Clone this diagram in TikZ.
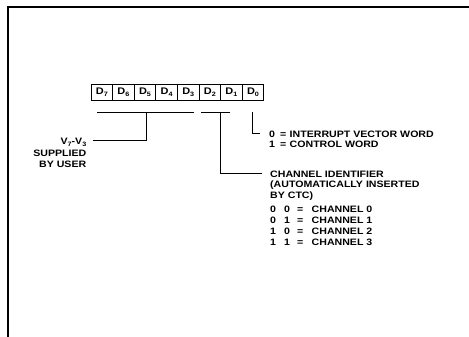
\documentclass[tikz,border=0pt]{standalone}
\usepackage{fontspec}
\newfontfamily\labfont{Liberation Sans}[FakeStretch=1.14]
\newcommand{\subx}[1]{\raisebox{-0.4ex}{\fontsize{6.3}{6.3}\selectfont #1}}
\begin{document}
\begin{tikzpicture}[x=1pt,y=-1pt,
  cellbox/.style={draw,line width=0.9pt,minimum width=21.6pt,minimum height=16pt,inner sep=0pt,
    font=\labfont\bfseries\fontsize{9.6}{10}\selectfont},
  lbl/.style={inner sep=0pt,font=\labfont\bfseries\fontsize{9.3}{10}\selectfont},
  lead/.style={line width=0.9pt}]
\useasboundingbox (0,0) rectangle (469,337);
% frame
\draw[line width=1.6pt] (8,337) -- (8,7) -- (469,7);
% register cells
\foreach \i/\n in {0/7,1/6,2/5,3/4,4/3,5/2,6/1,7/0}
  \node[cellbox] (c\n) at (91+21.6*\i+10.8,92) {D\subx{\n}};
% brackets
\coordinate (b1l) at (97,112);
\coordinate (b1r) at (194,112);
\coordinate (b1m) at (146,112);
\coordinate (b1e) at (146,140.7);
\coordinate (b2l) at (201,112);
\coordinate (b2r) at (230,112);
\coordinate (b2m) at (220,112);
\coordinate (b2e) at (220,173.3);
\coordinate (b3m) at (252,112);
\coordinate (b3e) at (252,133.3);
\draw[lead] (b1l) -- (b1r);
\draw[lead] (b2l) -- (b2r);
% left text
\node[lbl,anchor=base east] (v) at (86.5,144.5) {V\subx{7}-V\subx{3}};
\node[lbl,anchor=base east] (sup) at (86.5,156.7) {SUPPLIED};
\node[lbl,anchor=base east] (byu) at (86.5,167.3) {BY USER};
\coordinate (vend) at (92.7,140.7);
\draw[lead] (b1m) -- (b1e) -- (vend);
% D0 text
\node[lbl,anchor=base west] (iv) at (269,137.2) {\makebox[11pt][l]{0}\makebox[9.5pt][l]{=}INTERRUPT VECTOR WORD};
\node[lbl,anchor=base west] (cw) at (269,147.8) {\makebox[11pt][l]{1}\makebox[9.5pt][l]{=}CONTROL WORD};
\coordinate (d0e) at (260,133.3);
\draw[lead] (b3m) -- (b3e) -- (d0e);
% channel text
\node[lbl,anchor=base west] (ci) at (270,177) {CHANNEL IDENTIFIER};
\node[lbl,anchor=base west] (ai) at (270,187.6) {(AUTOMATICALLY INSERTED};
\node[lbl,anchor=base west] (ctc) at (270,198.3) {BY CTC)};
\foreach \a/\b/\c/\yy in {0/0/0/212.3,0/1/1/223,1/0/2/234,1/1/3/245.5}
  \node[lbl,anchor=base west] (ch\c) at (270,\yy) {\makebox[14pt][l]{\a}\makebox[13pt][l]{\b}\makebox[14.5pt][l]{=}CHANNEL \c};
\coordinate (cie) at (262,173.3);
\draw[lead] (b2m) -- (b2e) -- (cie);
\end{tikzpicture}
\end{document}
